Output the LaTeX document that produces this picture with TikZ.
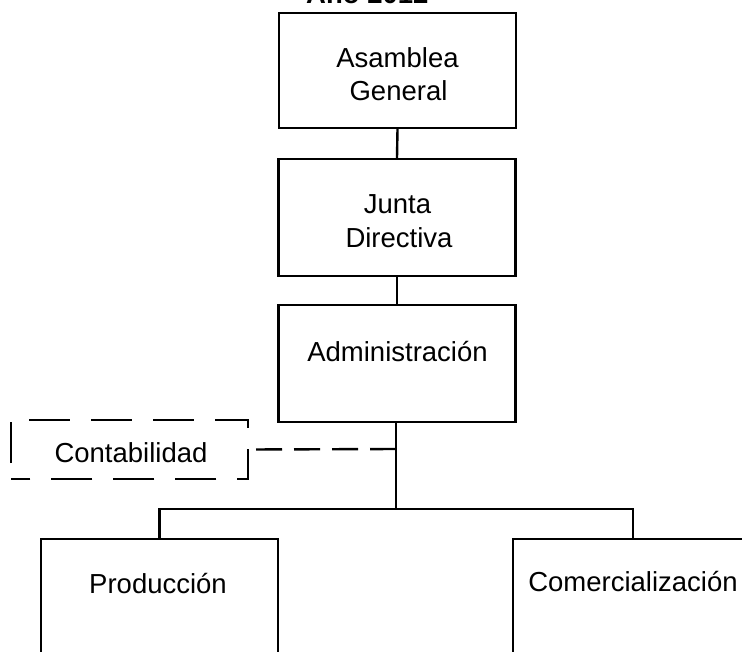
\documentclass[tikz,border=0pt]{standalone}
\usepackage{fontspec}
\setmainfont{Liberation Sans}
\begin{document}
\begin{tikzpicture}[x=1pt,y=-1pt,
  box/.style={draw=black,line width=2.4pt,rectangle,inner sep=0pt,minimum width=#1},
  box/.default=237pt,
  txt/.style={anchor=base,inner sep=0pt,font=\fontsize{27.5}{32}\selectfont},
  conn/.style={draw=black,line width=2.4pt},
  dashbox/.style={draw=black,line width=2.4pt,dash pattern=on 41pt off 21pt,dash phase=46pt},
  dashconn/.style={draw=black,line width=2.4pt,dash pattern=on 26pt off 12pt}]
\useasboundingbox (0,0) rectangle (742,651);
% title (cut at the top edge, as in the reference)
\node[anchor=base west,inner sep=0pt,font=\fontsize{27.5}{32}\selectfont\bfseries] (title) at (306,3.5) {Año 2012};
% boxes
\node[box,minimum height=115pt] (asam) at (397.5,70.5) {};
\node[box,minimum height=117pt] (junta) at (397,217.5) {};
\node[box,minimum height=117pt] (admin) at (397,363.5) {};
\node[rectangle,inner sep=0pt,minimum width=237pt,minimum height=59pt] (conta) at (129.5,449.5) {};
\draw[dashbox] (conta.south west) -- (conta.north west) -- (conta.north east) -- (conta.south east) -- cycle;
\node[box=237pt,minimum height=200pt] (prod) at (159.5,639) {};
\node[box=240pt,minimum height=200pt] (com) at (633,639) {};
% texts
\node[txt] (t1) at (397.5,67) {Asamblea};
\node[txt] (t2) at (398.5,100) {General};
\node[txt] (t3) at (397.5,213) {Junta};
\node[txt] (t4) at (399,247) {Directiva};
\node[txt] (t5) at (397.5,361) {Administración};
\node[txt] (t6) at (131,462) {Contabilidad};
\node[txt] (t7) at (158,593) {Producción};
\node[txt] (t8) at (633,591) {Comercialización};
% connectors
\coordinate (bus) at (396,509);
\coordinate (dj) at (396,449);
\draw[conn] (asam.south) -- (junta.north);
\draw[conn] (junta.south) -- (admin.north);
\draw[conn] (admin.south -| bus) -- (bus);
\draw[conn] (prod.north) |- (bus) -| (com.north);
\draw[dashconn] (dj) -- (conta.east);
\end{tikzpicture}
\end{document}
